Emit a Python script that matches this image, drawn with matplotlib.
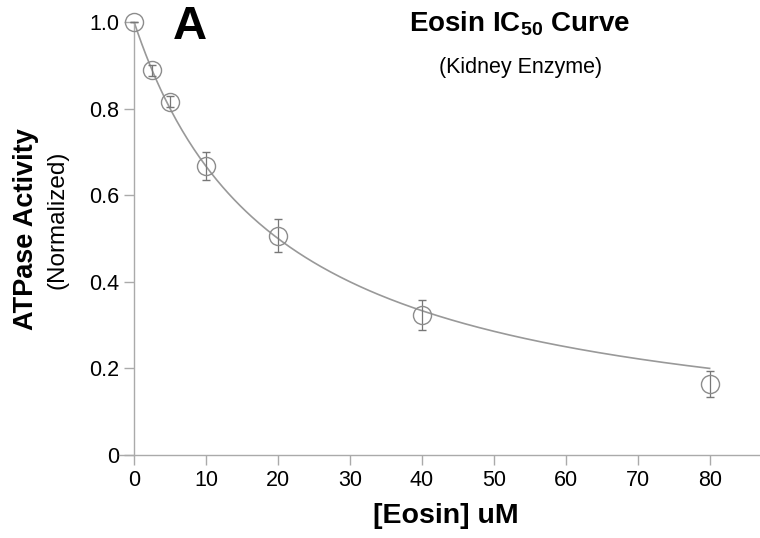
import numpy as np
import matplotlib
matplotlib.use("Agg")
import matplotlib.pyplot as plt

plt.rcParams['font.family'] = ['Liberation Sans', 'DejaVu Sans']
plt.rcParams['mathtext.fontset'] = 'custom'
plt.rcParams['mathtext.rm'] = 'Liberation Sans'
plt.rcParams['mathtext.bf'] = 'Liberation Sans:bold'

# measured points
eosin_um = [0, 2.5, 5, 10, 20, 40, 80]
activity = [1.0, 0.888, 0.816, 0.667, 0.506, 0.323, 0.163]
activity_err = [0.0, 0.012, 0.013, 0.033, 0.038, 0.035, 0.030]

# fitted IC50 (uM) for the curve
ic50 = 20.0

xticks = [0, 10, 20, 30, 40, 50, 60, 70, 80]
yticks = [0, 0.2, 0.4, 0.6, 0.8, 1.0]
ytick_labels = ["0", "0.2", "0.4", "0.6", "0.8", "1.0"]

gray = "#8c8c8c"

fig = plt.figure(figsize=(7.6, 5.38), dpi=100)
ax = fig.add_axes([119/760, 83/538, 641/760, 433/538])

xfit = np.linspace(0, 80, 300)
yfit = 1.0 / (1.0 + xfit / ic50)
ax.plot(xfit, yfit, color="#999999", lw=1.2, zorder=2)

ax.errorbar(eosin_um, activity, yerr=activity_err, fmt='o', ms=13,
            mfc='none', mec=gray, mew=1.0, ecolor="#777777", elinewidth=0.9,
            capsize=3, capthick=0.9, clip_on=False, zorder=3)

ax.set_xlim(-2.1, 87)
ax.set_ylim(0, 1.0)
ax.spines['left'].set_position(('data', 0))
for s in ['top', 'right']:
    ax.spines[s].set_visible(False)
for s in ['left', 'bottom']:
    ax.spines[s].set_color("#aaaaaa")
    ax.spines[s].set_linewidth(1.0)

ax.set_xticks(xticks)
ax.set_yticks(yticks)
ax.set_yticklabels(ytick_labels)
ax.tick_params(axis='both', colors="#aaaaaa", labelcolor="black",
               labelsize=15.5, length=7, width=1.0, direction='out')

fig.text(26/760, 1 - 229/538, "ATPase Activity", rotation=90, fontsize=19.5,
         fontweight='bold', ha='center', va='center')
fig.text(57/760, 1 - 220/538, "(Normalized)", rotation=90, fontsize=17.5,
         ha='center', va='center')
fig.text(446/760, 1 - 516/538, "[Eosin] uM", fontsize=20.5, fontweight='bold',
         ha='center', va='center')

fig.text(190/760, 1 - 27/538, "A", fontsize=34, fontweight='bold',
         ha='center', va='center')
fig.text(520/760, 1 - 24/538, r"Eosin IC$_{\mathbf{50}}$ Curve", fontsize=20,
         fontweight='bold', ha='center', va='center')
fig.text(521/760, 1 - 68/538, "(Kidney Enzyme)", fontsize=15.5,
         ha='center', va='center')

fig.savefig("out.png", dpi=100)
